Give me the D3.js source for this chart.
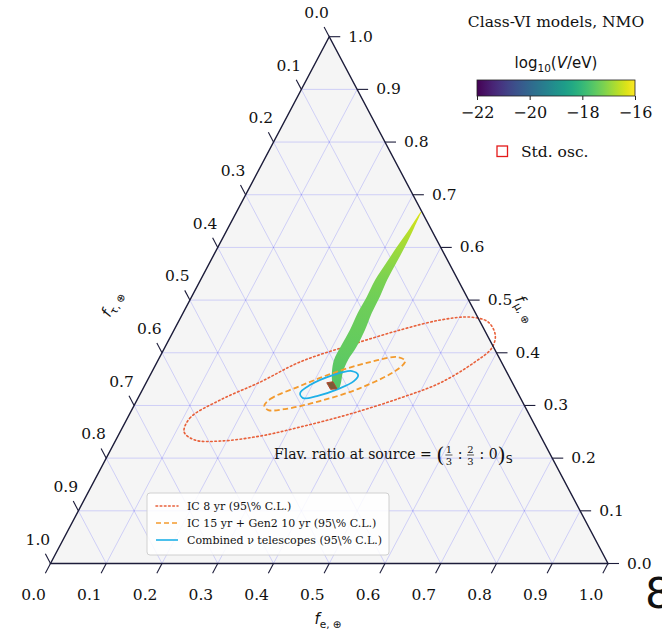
<!DOCTYPE html>
<html><head><meta charset="utf-8">
<script src="https://cdn.jsdelivr.net/npm/d3@7"></script>
<style>body{margin:0;background:#fff} svg{display:block} text{white-space:pre}</style>
</head><body>
<svg id="c" width="662" height="631"></svg>
<script>
// ---------- data ----------
const tickValues = [0,0.1,0.2,0.3,0.4,0.5,0.6,0.7,0.8,0.9,1.0];
const tickLabels = ["0.0","0.1","0.2","0.3","0.4","0.5","0.6","0.7","0.8","0.9","1.0"];
const gridValues = [0.1,0.2,0.3,0.4,0.5,0.6,0.7,0.8,0.9];

// green band (Class-VI models): centreline in (f_e, f_mu), half-width in f_e, log10(V/eV)
const bandFe  = [0.331,0.330,0.328,0.326,0.324,0.326,0.326,0.329,0.329,0.328,0.333,0.341,0.347];
const bandFmu = [0.667,0.6366,0.6006,0.5702,0.538,0.5057,0.4753,0.4431,0.4108,0.3861,0.3634,0.3444,0.3311];
const bandHalfWidth = [0.0009,0.0036,0.0072,0.009,0.0108,0.0117,0.0126,0.0135,0.0143,0.0126,0.0099,0.0081,0.0054];
const bandLogV = [-16.3,-16.6,-16.85,-17.05,-17.2,-17.3,-17.35,-17.4,-17.45,-17.5,-17.55,-17.6,-17.6];

// IC 8 yr contour
const ic8Fe  = [0.115,0.112,0.149,0.204,0.256,0.330,0.405,0.468,0.519,0.556,0.581,0.587,0.570,0.527,0.470,0.395,0.318,0.255,0.188,0.142];
const ic8Fmu = [0.2495,0.2761,0.3102,0.3444,0.3824,0.4146,0.4431,0.4621,0.4677,0.4583,0.4336,0.4089,0.3824,0.3425,0.314,0.2837,0.259,0.2419,0.2324,0.2343];
// IC 15 yr + Gen2 10 yr contour
const gen2Fe  = [0.234,0.238,0.279,0.326,0.382,0.427,0.444,0.439,0.389,0.329,0.274,0.245];
const gen2Fmu = [0.2989,0.3121,0.3368,0.3615,0.3824,0.3918,0.3843,0.3691,0.333,0.3083,0.2932,0.2913];
// Combined neutrino telescopes contour
const combFe  = [0.286,0.296,0.328,0.358,0.373,0.371,0.350,0.319,0.296];
const combFmu = [0.3235,0.3387,0.3577,0.3653,0.3577,0.3463,0.3311,0.3178,0.314];
// standard oscillation region
const stdFe  = [0.324,0.334,0.348,0.337];
const stdFmu = [0.3431,0.345,0.3317,0.3306];

const cbTicks = [-22,-20,-18,-16];
const legendLabels = ["IC 8 yr (95\\% C.L.)","IC 15 yr + Gen2 10 yr (95\\% C.L.)","Combined \u03bd telescopes (95\\% C.L.)"];

// ---------- drawing ----------
const svg = d3.select("#c");
const SERIF = "'DejaVu Serif', serif";
const SANS = "'DejaVu Sans', sans-serif";
const xS = d3.scaleLinear().domain([0,1]).range([50.5,608]);
const yS = d3.scaleLinear().domain([0,1]).range([563.5,36.7]);
const P = (fe,fm)=>[xS(fe+fm/2), yS(fm)];

// triangle background
const tri = [P(0,0),P(1,0),P(0,1)];
svg.append("path").attr("d","M"+tri.join("L")+"Z").attr("fill","#f5f5f5");

// grid
const gridG = svg.append("g").attr("stroke","#0000ff").attr("stroke-opacity",0.2).attr("stroke-width",0.8);
gridValues.forEach(v=>{
  gridG.append("line").attr("x1",P(0,v)[0]).attr("y1",P(0,v)[1]).attr("x2",P(1-v,v)[0]).attr("y2",P(1-v,v)[1]);
  gridG.append("line").attr("x1",P(v,0)[0]).attr("y1",P(v,0)[1]).attr("x2",P(v,1-v)[0]).attr("y2",P(v,1-v)[1]);
  gridG.append("line").attr("x1",P(1-v,0)[0]).attr("y1",P(1-v,0)[1]).attr("x2",P(0,1-v)[0]).attr("y2",P(0,1-v)[1]);
});

// contours
const lineGen = d3.line().curve(d3.curveCatmullRomClosed.alpha(0.5));
function contour(fe,fm){ return lineGen(fe.map((d,i)=>P(d,fm[i]))); }
svg.append("path").attr("d",contour(ic8Fe,ic8Fmu)).attr("fill","none")
  .attr("stroke","#e8603a").attr("stroke-width",1.6).attr("stroke-dasharray","1.6,2.6").attr("stroke-linecap","round");

// band with gradient
const viridis = d3.scaleSequential(d3.interpolateViridis).domain([-22,-16]);
const defs = svg.append("defs");
const y0 = yS(bandFmu[0]), y1 = yS(bandFmu[bandFmu.length-1]);
const bg = defs.append("linearGradient").attr("id","bandGrad").attr("gradientUnits","userSpaceOnUse")
  .attr("x1",0).attr("x2",0).attr("y1",y0).attr("y2",y1);
bandLogV.forEach((v,i)=>{
  bg.append("stop").attr("offset",(yS(bandFmu[i])-y0)/(y1-y0)).attr("stop-color",viridis(v));
});
const bandData = bandFe.map((d,i)=>({fe:d,fm:bandFmu[i],hw:bandHalfWidth[i]}));
const area = d3.area().curve(d3.curveCatmullRom)
  .y(d=>yS(d.fm)).x0(d=>xS(d.fe-d.hw+d.fm/2)).x1(d=>xS(d.fe+d.hw+d.fm/2));
svg.append("path").attr("d",area(bandData)).attr("fill","url(#bandGrad)");

svg.append("path").attr("d",contour(gen2Fe,gen2Fmu)).attr("fill","none")
  .attr("stroke","#f39a2e").attr("stroke-width",1.8).attr("stroke-dasharray","5.5,3");
svg.append("path").attr("d",contour(combFe,combFmu)).attr("fill","none")
  .attr("stroke","#1eb0e8").attr("stroke-width",1.8);
svg.append("path").attr("d","M"+stdFe.map((d,i)=>P(d,stdFmu[i])).join("L")+"Z")
  .attr("fill","#7d5a36").attr("stroke","#b2462c").attr("stroke-width",1);

// triangle edges
svg.append("path").attr("d","M"+tri.join("L")+"Z").attr("fill","none").attr("stroke","#1c1c3a").attr("stroke-width",1.4);

// ticks and labels
const tickLen = 11;
function unit(a,b){const dx=a[0]-b[0],dy=a[1]-b[1],l=Math.hypot(dx,dy);return [dx/l,dy/l];}
const dB = unit(P(0,0),P(0,1));   // bottom axis tick direction
const dL = unit(P(0,1),P(1,0));   // left axis tick direction
const tg = svg.append("g").attr("stroke","#1c1c3a").attr("stroke-width",1.1);
const lg = svg.append("g").attr("font-family",SERIF).attr("font-size",15.5).attr("fill","#111");
tickValues.forEach((v,i)=>{
  let p = P(v,0);
  tg.append("line").attr("x1",p[0]).attr("y1",p[1]).attr("x2",p[0]+dB[0]*tickLen).attr("y2",p[1]+dB[1]*tickLen);
  lg.append("text").attr("x",p[0]+dB[0]*36).attr("y",p[1]+dB[1]*36).attr("text-anchor","middle")
    .attr("dominant-baseline","central").text(tickLabels[i]);
  p = P(1-v,v);
  tg.append("line").attr("x1",p[0]).attr("y1",p[1]).attr("x2",p[0]+tickLen).attr("y2",p[1]);
  lg.append("text").attr("x",p[0]+19).attr("y",p[1]).attr("text-anchor","start")
    .attr("dominant-baseline","central").text(tickLabels[i]);
  p = P(0,1-v);
  tg.append("line").attr("x1",p[0]).attr("y1",p[1]).attr("x2",p[0]+dL[0]*tickLen).attr("y2",p[1]+dL[1]*tickLen);
  lg.append("text").attr("x",p[0]+dL[0]*27).attr("y",p[1]+dL[1]*27).attr("text-anchor","middle")
    .attr("dominant-baseline","central").text(tickLabels[i]);
});

// axis labels
function axLabel(x,y,rot,sub){
  const t = svg.append("text").attr("transform",`translate(${x},${y}) rotate(${rot})`)
    .attr("text-anchor","middle").attr("font-family",SANS).attr("font-size",15).attr("fill","#111");
  t.append("tspan").attr("font-style","italic").text("f");
  t.append("tspan").attr("font-size",10.5).attr("dy",4).text(sub);
}
axLabel(328,624,0,"e, \u2295");
axLabel(116,306,-62,"\u03c4, \u2295");
axLabel(521,311,62,"\u03bc, \u2295");

// annotation
const ann = svg.append("g").attr("font-family",SERIF).attr("fill","#111");
let ax = 274, ay = 459;
const t1 = ann.append("text").attr("x",ax).attr("y",ay).attr("font-size",14).text("Flav. ratio at source = ");
ax += t1.node().getComputedTextLength();
const par1 = ann.append("text").attr("x",ax).attr("y",ay+3).attr("font-size",21).attr("font-weight",200).text("(");
ax += par1.node().getComputedTextLength()+1;
function frac(num,den){
  ann.append("text").attr("x",ax+3.5).attr("y",ay-6).attr("font-size",10).attr("text-anchor","middle").text(num);
  ann.append("text").attr("x",ax+3.5).attr("y",ay+6).attr("font-size",10).attr("text-anchor","middle").text(den);
  ann.append("line").attr("x1",ax).attr("x2",ax+7).attr("y1",ay-4).attr("y2",ay-4).attr("stroke","#111").attr("stroke-width",0.7);
  ax += 8;
}
frac("1","3");
let c1 = ann.append("text").attr("x",ax).attr("y",ay).attr("font-size",14).text(" : ");
ax += c1.node().getComputedTextLength();
frac("2","3");
c1 = ann.append("text").attr("x",ax).attr("y",ay).attr("font-size",14).text(" : 0");
ax += c1.node().getComputedTextLength();
const par2 = ann.append("text").attr("x",ax).attr("y",ay+3).attr("font-size",21).attr("font-weight",200).text(")");
ax += par2.node().getComputedTextLength();
ann.append("text").attr("x",ax).attr("y",ay+4).attr("font-size",11).attr("font-family",SANS).text("S");

// legend
const leg = svg.append("g");
leg.append("rect").attr("x",147).attr("y",493).attr("width",242).attr("height",62).attr("rx",3)
  .attr("fill","#fff").attr("fill-opacity",0.85).attr("stroke","#d0d0d0").attr("stroke-width",1);
const legStyles = [
  {stroke:"#e8603a",dash:"1.6,2.6",cap:"round"},
  {stroke:"#f39a2e",dash:"5,3",cap:"butt"},
  {stroke:"#1eb0e8",dash:null,cap:"butt"}
];
legendLabels.forEach((lab,i)=>{
  const y = 506 + i*17;
  const ln = leg.append("line").attr("x1",156).attr("x2",178).attr("y1",y).attr("y2",y)
    .attr("stroke",legStyles[i].stroke).attr("stroke-width",1.6).attr("stroke-linecap",legStyles[i].cap);
  if(legStyles[i].dash) ln.attr("stroke-dasharray",legStyles[i].dash);
  leg.append("text").attr("x",187).attr("y",y).attr("dominant-baseline","central")
    .attr("font-family",SERIF).attr("font-size",11).attr("fill","#111").text(lab);
});

// title
svg.append("text").attr("x",556).attr("y",27).attr("text-anchor","middle")
  .attr("font-family",SERIF).attr("font-size",15.5).attr("fill","#111").text("Class-VI models, NMO");

// colorbar
const cbS = d3.scaleLinear().domain([-22,-16]).range([477,635]);
const cg = defs.append("linearGradient").attr("id","cbGrad");
d3.range(0,1.0001,0.05).forEach(t=>cg.append("stop").attr("offset",t).attr("stop-color",d3.interpolateViridis(t)));
svg.append("rect").attr("x",cbS(-22)).attr("y",80).attr("width",cbS(-16)-cbS(-22)).attr("height",16)
  .attr("fill","url(#cbGrad)").attr("stroke","#222").attr("stroke-width",0.8);
const cbAxis = svg.append("g").attr("transform","translate(0,96)")
  .call(d3.axisBottom(cbS).tickValues(cbTicks).tickSize(4).tickFormat(d3.format("d")));
cbAxis.select(".domain").remove();
cbAxis.selectAll("text").attr("font-family",SERIF).attr("font-size",16).attr("fill","#111").attr("dy","0.95em");
cbAxis.selectAll("line").attr("stroke","#222");
const cbl = svg.append("text").attr("x",556).attr("y",68).attr("text-anchor","middle")
  .attr("font-family",SANS).attr("font-size",15).attr("fill","#111");
cbl.append("tspan").text("log");
cbl.append("tspan").attr("font-size",10.5).attr("dy",4).text("10");
cbl.append("tspan").attr("dy",-4).text("(");
cbl.append("tspan").attr("font-style","italic").text("V");
cbl.append("tspan").text("/eV)");

// std osc legend
svg.append("rect").attr("x",497).attr("y",146).attr("width",10.5).attr("height",10.5)
  .attr("fill","none").attr("stroke","#e41a1a").attr("stroke-width",1.3);
svg.append("text").attr("x",521).attr("y",157).attr("font-family",SERIF).attr("font-size",15.5)
  .attr("fill","#111").text("Std. osc.");

// stray glyph at bottom right
svg.append("text").attr("x",645).attr("y",608).attr("font-family",SANS).attr("font-size",43)
  .attr("fill","#111").text("8");
</script>
</body></html>
